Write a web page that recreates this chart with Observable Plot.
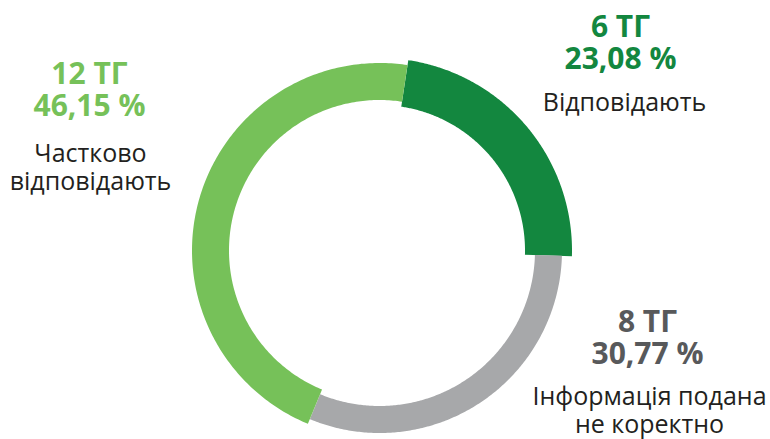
<!DOCTYPE html>
<html><head><meta charset="utf-8">
<script src="https://cdn.jsdelivr.net/npm/d3@7"></script>
<script src="https://cdn.jsdelivr.net/npm/@observablehq/plot@0.6"></script>
<style>html,body{margin:0;padding:0;background:#fff;}</style>
</head><body><div id="chart"></div>
<script>
// ---- data ----
const categories = ["Відповідають", "Інформація подана не коректно", "Частково відповідають"];
const counts = [6, 8, 12];
const percentLabels = ["23,08 %", "30,77 %", "46,15 %"];
const countLabels = ["6 ТГ", "8 ТГ", "12 ТГ"];
const descLabels = ["Відповідають", "Інформація подана\nне коректно", "Частково\nвідповідають"];

// ---- styles / layout ----
const colors = ["#13873f", "#a7a8aa", "#76c159"];
const numberColors = ["#13873f", "#58595b", "#76c159"];
const ringWidths = [47, 27, 37];
const ringRadius = 169;
const startDeg = 8.6;
const W = 770, H = 439, CX = 379, CY = 250;
// label anchors (pixel space): centre x, baseline of last bold line, baseline of last desc line
const labelLayout = [
  {x: 620, yNum: 68, descX: 624, yDesc: 110},
  {x: 647, yNum: 363, descX: 649, yDesc: 432},
  {x: 89, yNum: 115, descX: 90, yDesc: 189}
];

const pie = d3.pie().sort(null).value(d => d).startAngle(startDeg * Math.PI / 180).endAngle(startDeg * Math.PI / 180 + 2 * Math.PI);
const arcs = pie(counts);
const pts = [];
arcs.forEach((a, i) => {
  const ro = ringRadius + ringWidths[i] / 2, ri = ringRadius - ringWidths[i] / 2;
  const n = 200;
  for (let k = 0; k <= n; k++) {
    const t = a.startAngle + (a.endAngle - a.startAngle) * k / n;
    pts.push({cat: categories[i], x: ro * Math.sin(t), y: ro * Math.cos(t)});
  }
  for (let k = n; k >= 0; k--) {
    const t = a.startAngle + (a.endAngle - a.startAngle) * k / n;
    pts.push({cat: categories[i], x: ri * Math.sin(t), y: ri * Math.cos(t)});
  }
});

const textMarks = [];
categories.forEach((c, i) => {
  const L = labelLayout[i];
  textMarks.push(Plot.text([countLabels[i] + "\n" + percentLabels[i]], {frameAnchor: "top-left", dx: L.x, dy: L.yNum, text: d => d, fill: numberColors[i], fontSize: 30, fontWeight: 700, lineHeight: 32 / 30, textAnchor: "middle", lineAnchor: "bottom"}));
  textMarks.push(Plot.text([descLabels[i]], {frameAnchor: "top-left", dx: L.descX, dy: L.yDesc, text: d => d, fill: "#231f20", fontSize: 25, fontWeight: 400, lineHeight: 28 / 25, textAnchor: "middle", lineAnchor: "bottom"}));
});

const chart = Plot.plot({
  width: W, height: H,
  margin: 0,
  style: {fontFamily: "'Open Sans', sans-serif", background: "#fff", overflow: "visible"},
  x: {domain: [-CX, W - CX], axis: null},
  y: {domain: [-(H - CY), CY], axis: null},
  color: {domain: categories, range: colors},
  marks: [
    Plot.line(pts, {x: "x", y: "y", z: "cat", fill: "cat", stroke: null, curve: "linear-closed"}),
    ...textMarks
  ]
});
document.getElementById("chart").appendChild(chart);
</script>
</body></html>
